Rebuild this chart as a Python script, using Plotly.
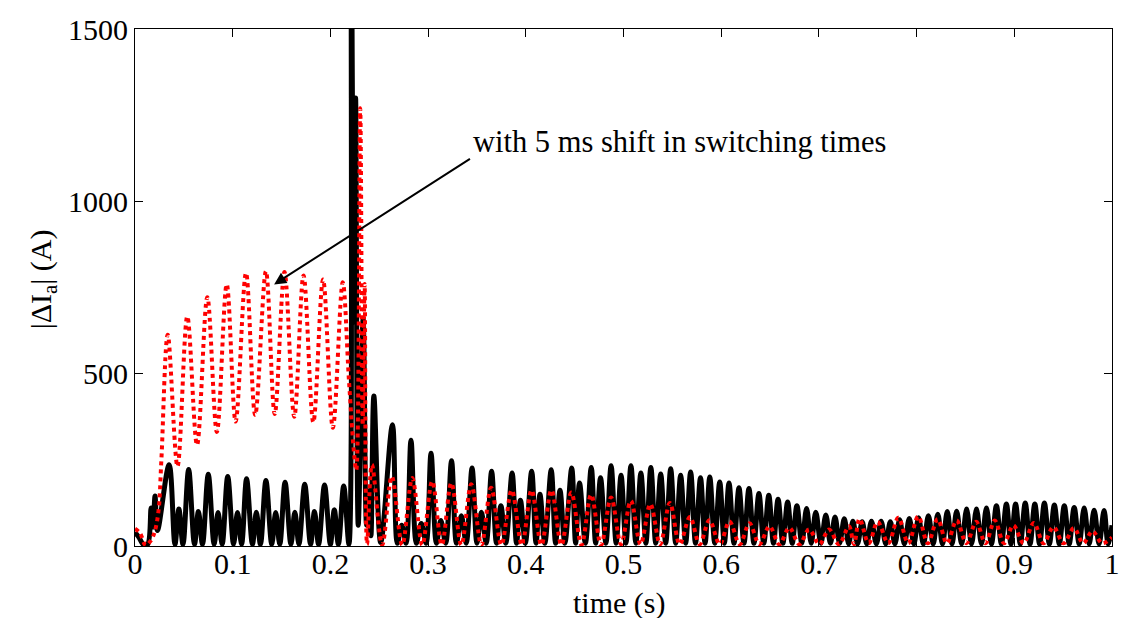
import plotly.graph_objects as go

# ---- data (peaks / troughs of |dI_a|) ----
black_t = [0.000, 0.004, 0.009, 0.013, 0.0165, 0.0185, 0.0205, 0.023,
           0.0349, 0.0409, 0.0449, 0.0491,
           0.0549, 0.0609, 0.0649, 0.0691,
           0.0750, 0.0810, 0.0850, 0.0892,
           0.0949, 0.1009, 0.1049, 0.1091,
           0.1142, 0.1202, 0.1242, 0.1284,
           0.1340, 0.1400, 0.1440, 0.1482,
           0.1536, 0.1596, 0.1636, 0.1678,
           0.1737, 0.1797, 0.1837, 0.1879,
           0.1940, 0.2000, 0.2040, 0.2082,
           0.2136, 0.2190, 0.2215, 0.2240, 0.2258, 0.2285, 0.2335, 0.2370, 0.2395, 0.2415,
           0.2445, 0.2515,
           0.2635, 0.2685, 0.2730, 0.2775,
           0.2825, 0.2880, 0.2930, 0.2980,
           0.3030, 0.3085, 0.3130, 0.3180,
           0.3240, 0.3290, 0.3340, 0.3390,
           0.3450, 0.3500, 0.3545, 0.3595,
           0.3650, 0.3700, 0.3745, 0.3795,
           0.3860, 0.3905, 0.3945, 0.3995,
           0.4060, 0.4105, 0.4145, 0.4195,
           0.4260, 0.4305, 0.4350, 0.4400,
           0.4470, 0.4510, 0.4550, 0.4610,
           0.4670, 0.4715, 0.4765, 0.4820,
           0.4873, 0.4925, 0.4975, 0.5025, 0.5076, 0.5127, 0.5178, 0.5229,
           0.5280, 0.5330, 0.5381, 0.5432, 0.5483, 0.5534, 0.5585, 0.5636,
           0.5687, 0.5737, 0.5788, 0.5835, 0.5883, 0.5934, 0.5985, 0.6032,
           0.6080, 0.6131, 0.6182, 0.6233, 0.6284, 0.6335, 0.6386, 0.6436,
           0.6487, 0.6535, 0.6582, 0.6631, 0.6680, 0.6727, 0.6775, 0.6825,
           0.6874, 0.6921, 0.6968, 0.7020, 0.7071, 0.7118, 0.7165, 0.7212,
           0.7260, 0.7305, 0.7348, 0.7395, 0.7443, 0.7490, 0.7538, 0.7588,
           0.7637, 0.7684, 0.7731, 0.7778, 0.7826, 0.7875, 0.7925, 0.7972,
           0.8020, 0.8070, 0.8121, 0.8170, 0.8217, 0.8265, 0.8314, 0.8362,
           0.8410, 0.8461, 0.8512, 0.8562, 0.8613, 0.8664, 0.8715, 0.8766,
           0.8817, 0.8868, 0.8919, 0.8966, 0.9013, 0.9062, 0.9112, 0.9161,
           0.9210, 0.9259, 0.9308, 0.9359, 0.9410, 0.9461, 0.9512, 0.9562,
           0.9613, 0.9664, 0.9715, 0.9766, 0.9817, 0.9868, 0.9919, 0.9960,
           1.0000]
black_v = [40, 25, 3, 5, 110, 55, 145, 45,
           236, 5, 107, 5,
           222, 5, 100, 5,
           208, 5, 97, 5,
           202, 5, 97, 5,
           195, 5, 98, 5,
           190, 5, 97, 5,
           185, 5, 98, 5,
           179, 5, 100, 5,
           177, 5, 105, 5,
           174, 5, 1700, 650, 1300, 60, 660, 60, 160, 30,
           435, 10,
           352, 8, 60, 8,
           307, 8, 65, 8,
           269, 8, 74, 8,
           247, 8, 88, 8,
           226, 8, 98, 8,
           217, 8, 117, 8,
           212, 8, 133, 8,
           217, 8, 150, 8,
           221, 8, 162, 8,
           226, 8, 183, 8,
           228, 8, 198, 8,
           233, 8, 205, 8, 233, 8, 212, 8,
           228, 8, 209, 8, 224, 8, 205, 8,
           215, 8, 198, 8, 200, 8, 186, 8,
           183, 8, 169, 8, 167, 8, 152, 8,
           147, 8, 136, 8, 128, 8, 117, 8,
           109, 8, 98, 8, 90, 8, 84, 8,
           79, 6, 72, 6, 70, 6, 72, 6,
           72, 6, 70, 6, 76, 6, 80, 6,
           82, 6, 88, 6, 92, 6, 100, 6,
           101, 6, 107, 6, 107, 6, 110, 6,
           117, 6, 122, 6, 122, 6, 125, 6,
           122, 6, 125, 6, 119, 6, 117, 6,
           112, 6, 110, 6, 104, 6, 103, 6,
           60]

red_t = [0.000, 0.005, 0.011, 0.016, 0.020, 0.024, 0.027,
         0.0335, 0.0435, 0.0535, 0.0635, 0.0740, 0.0838, 0.0939, 0.1030,
         0.1136, 0.1230, 0.1340, 0.1430, 0.1530, 0.1630, 0.1725, 0.1825,
         0.1925, 0.2025, 0.2126, 0.2190, 0.2245, 0.2265, 0.2305, 0.2330,
         0.2350, 0.2375,
         0.2425, 0.2530, 0.2628, 0.2735, 0.2838, 0.2940, 0.3042, 0.3140,
         0.3238, 0.3340, 0.3442, 0.3545, 0.3645, 0.3750, 0.3856, 0.3960,
         0.4059, 0.4160, 0.4262, 0.4365, 0.4466, 0.4570, 0.4669, 0.4770,
         0.4873, 0.4975, 0.5075, 0.5175, 0.5275, 0.5375, 0.5475, 0.5575,
         0.5680, 0.5780, 0.5880, 0.5985, 0.6085, 0.6190, 0.6290, 0.6390,
         0.6495, 0.6595, 0.6697, 0.6800, 0.6900, 0.7005, 0.7104, 0.7205,
         0.7307, 0.7360, 0.7416, 0.7510, 0.7602, 0.7710, 0.7813, 0.7915,
         0.8016, 0.8115, 0.8215, 0.8310, 0.8410, 0.8510, 0.8610, 0.8705,
         0.8800, 0.8895, 0.8990, 0.9095, 0.9200, 0.9300, 0.9400, 0.9505,
         0.9610, 0.9705, 0.9800, 0.9900, 1.0000]
red_v = [50, 38, 2, 15, 40, 100, 250,
         613, 231, 666, 293, 722, 331, 759, 361,
         792, 380, 797, 383, 795, 375, 785, 359,
         773, 343, 765, 480, 260, 220, 1270, 350,
         760, 5,
         236, 3, 202, 3, 197, 3, 188, 3,
         183, 3, 179, 3, 169, 3, 162, 3,
         162, 3, 162, 3, 155, 3, 149, 3,
         141, 5, 131, 5, 122, 5, 125, 5,
         84, 5, 75, 5, 71, 5, 66, 5,
         57, 5, 53, 5, 48, 5, 48, 5,
         57, 5, 79, 8, 70, 8, 82, 8,
         86, 8, 78, 8, 74, 8, 70, 8,
         74, 8, 60, 8, 67, 8, 55, 8,
         52, 8, 43, 8, 25]

x_ticks = [0, 0.1, 0.2, 0.3, 0.4, 0.5, 0.6, 0.7, 0.8, 0.9, 1]
x_tick_labels = ["0", "0.1", "0.2", "0.3", "0.4", "0.5", "0.6", "0.7", "0.8", "0.9", "1"]
y_ticks = [0, 500, 1000, 1500]
y_tick_labels = ["0", "500", "1000", "1500"]

FONT = "Liberation Serif"

fig = go.Figure()
fig.add_trace(go.Scatter(x=black_t, y=black_v, mode="lines",
                         line=dict(color="black", width=5, shape="spline", smoothing=1.0),
                         showlegend=False))
fig.add_trace(go.Scatter(x=red_t, y=red_v, mode="lines",
                         line=dict(color="#ff0000", width=4, dash="dot", shape="spline", smoothing=1.0),
                         showlegend=False))

axis_common = dict(showline=True, linecolor="black", linewidth=1, mirror="ticks",
                   ticks="inside", ticklen=8, tickwidth=1, tickcolor="black",
                   showgrid=False, zeroline=False,
                   tickfont=dict(family=FONT, size=30, color="black"))

fig.update_xaxes(range=[0, 1], tickvals=x_ticks, ticktext=x_tick_labels, ticklabelstandoff=-9, **axis_common)
fig.update_yaxes(range=[0, 1500], tickvals=y_ticks, ticktext=y_tick_labels, **axis_common)

fig.add_annotation(x=0.1424, y=759, ax=0.3459, ay=1129, xref="x", yref="y",
                   axref="x", ayref="y", text=" ", showarrow=True,
                   arrowhead=2, arrowsize=1.2, arrowwidth=2, arrowcolor="black")
fig.add_annotation(x=0.3438, y=1172, xref="x", yref="y", text="with 5 ms shift in switching times",
                   showarrow=False, xanchor="left", yanchor="middle",
                   font=dict(family=FONT, size=30.5, color="black"))
fig.add_annotation(x=0.4954, y=-0.11, xref="paper", yref="paper", text="time (s)",
                   showarrow=False, xanchor="center", yanchor="middle",
                   font=dict(family=FONT, size=30, color="black"))
fig.add_annotation(x=-0.0946, y=0.515, xref="paper", yref="paper",
                   text="|ΔI<sub>a</sub>| (A)", textangle=-90,
                   showarrow=False, xanchor="center", yanchor="middle",
                   font=dict(family=FONT, size=30, color="black"))

fig.update_layout(width=1132, height=618,
                  margin=dict(l=135, r=14, t=20, b=72),
                  paper_bgcolor="white", plot_bgcolor="white")

fig.write_html("out.html")
